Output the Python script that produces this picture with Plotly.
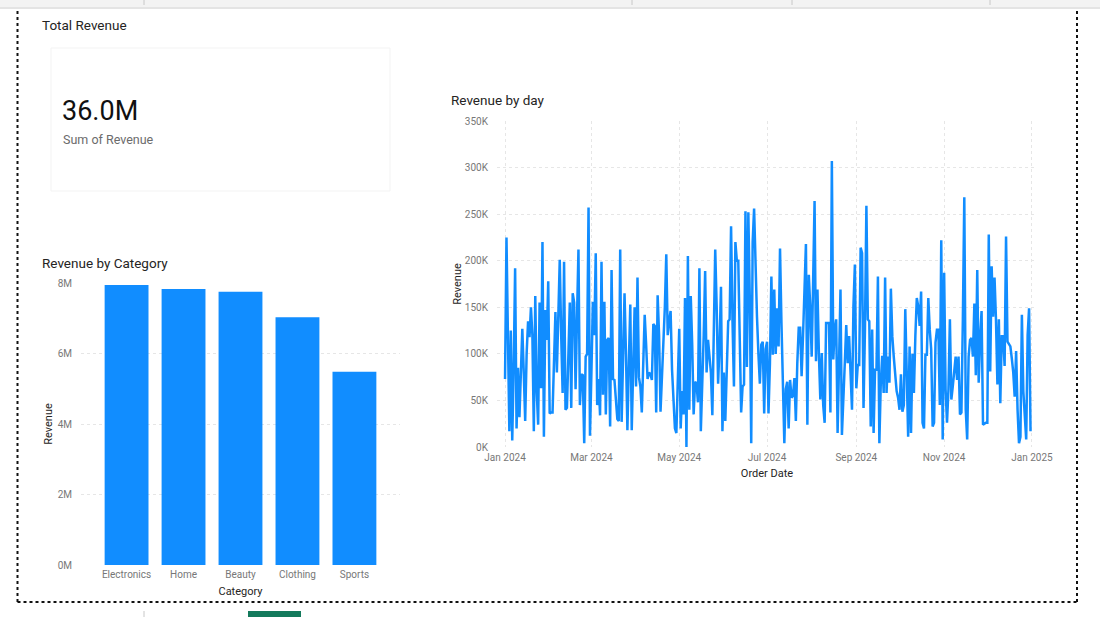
import pandas as pd
import plotly.graph_objects as go

# ---------------- data ----------------
categories = ["Electronics", "Home", "Beauty", "Clothing", "Sports"]
category_revenue = [7.94e6, 7.83e6, 7.75e6, 7.03e6, 5.48e6]
bar_tick_vals = [0, 2e6, 4e6, 6e6, 8e6]
bar_tick_text = ["0M", "2M", "4M", "6M", "8M"]

line_tick_vals = [0, 50e3, 100e3, 150e3, 200e3, 250e3, 300e3, 350e3]
line_tick_text = ["0K", "50K", "100K", "150K", "200K", "250K", "300K", "350K"]

# daily revenue (thousands) per month of 2024
jan = [73, 225, 120, 17, 125, 7, 85, 192, 20, 85, 32, 80, 127, 80, 28, 100, 135, 118, 150, 120,
       17, 162, 60, 24, 155, 63, 220, 11, 147, 115, 178]
feb = [36, 37, 37, 90, 145, 80, 130, 201, 120, 58, 199, 40, 42, 100, 155, 42, 165, 155, 62, 140,
       212, 45, 78, 77, 4, 97, 100, 257, 12]
mar = [80, 156, 120, 208, 45, 73, 34, 199, 56, 156, 35, 115, 117, 22, 190, 73, 72, 45, 30, 28,
       212, 27, 120, 165, 100, 18, 90, 153, 18, 100, 150]
apr = [65, 182, 75, 65, 37, 90, 142, 110, 73, 80, 78, 72, 132, 130, 37, 163, 120, 38, 70, 102,
       150, 207, 120, 135, 146, 83, 50, 20, 15, 60]
may = [127, 20, 60, 35, 160, 0, 205, 40, 162, 110, 35, 70, 68, 48, 192, 17, 60, 120, 189, 80,
       115, 100, 80, 34, 120, 212, 150, 68, 110, 172, 17]
jun = [80, 28, 90, 135, 137, 237, 135, 65, 220, 200, 200, 120, 37, 65, 67, 253, 86, 252, 160, 4,
       220, 256, 190, 140, 100, 68, 110, 113, 36, 105]
jul = [113, 36, 90, 183, 99, 169, 100, 149, 108, 213, 133, 60, 4, 62, 70, 20, 72, 53, 55, 74,
       28, 90, 128, 128, 76, 120, 183, 218, 24, 185, 150]
aug = [97, 178, 264, 92, 169, 100, 51, 101, 45, 26, 133, 133, 133, 37, 307, 94, 126, 137, 15, 90,
       169, 13, 62, 90, 131, 90, 119, 80, 40, 151, 196]
sep = [63, 88, 88, 214, 208, 42, 126, 259, 137, 135, 22, 126, 15, 83, 83, 183, 4, 69, 98, 58,
       182, 58, 97, 69, 170, 119, 97, 72, 60, 53]
oct_ = [40, 78, 38, 45, 148, 80, 11, 108, 15, 100, 58, 119, 160, 151, 130, 167, 26, 20, 99, 99,
        160, 126, 105, 22, 26, 112, 126, 126, 45, 222, 8]
nov = [187, 62, 26, 62, 137, 51, 65, 78, 97, 72, 97, 35, 37, 137, 268, 40, 8, 97, 115, 117,
       97, 154, 77, 190, 69, 117, 146, 24, 25, 26]
dec = [26, 228, 81, 194, 140, 182, 137, 67, 137, 47, 119, 119, 87, 226, 113, 111, 108, 95, 80, 54,
       103, 40, 4, 11, 142, 60, 26, 8, 120, 149, 17]
months = [jan, feb, mar, apr, may, jun, jul, aug, sep, oct_, nov, dec]

dates, revenue = [], []
for m, vals in enumerate(months, start=1):
    dates += list(pd.date_range(f"2024-{m:02d}-01", periods=len(vals), freq="D"))
    revenue += [v * 1000 for v in vals]

total_revenue = sum(category_revenue)

# ---------------- layout helpers ----------------
W, H = 1100, 617
def px(x):
    return x / W
def py(y):
    return 1 - y / H

BLUE = "#118DFF"
FONT = "Roboto"
TICK_C = "#777777"
TITLE_C = "#252423"
GRID_C = "#e6e6e6"
CLEAR = "rgba(0,0,0,0)"

fig = go.Figure()

fig.add_trace(go.Bar(
    x=categories, y=category_revenue, marker=dict(color=BLUE, line=dict(width=0)),
    width=0.77, xaxis="x", yaxis="y", showlegend=False,
))
fig.add_trace(go.Scatter(
    x=dates, y=revenue, mode="lines", line=dict(color=BLUE, width=2.5),
    xaxis="x2", yaxis="y2", showlegend=False,
))

axis_common = dict(showline=False, zeroline=False, automargin=False,
                   tickfont=dict(family=FONT, size=10, color=TICK_C))

fig.update_layout(
    width=W, height=H, margin=dict(l=0, r=0, t=0, b=0, pad=0, autoexpand=False),
    paper_bgcolor="white", plot_bgcolor="white",
    font=dict(family=FONT), showlegend=False,
    xaxis=dict(domain=[px(81), px(400)], anchor="y", range=[-0.8, 4.8], showgrid=False,
               ticks="outside", ticklen=0, tickcolor=CLEAR,
               title=dict(text="Category", font=dict(family=FONT, size=11, color=TITLE_C), standoff=8),
               **axis_common),
    yaxis=dict(domain=[py(565), py(283)], anchor="x", range=[0, 8e6],
               tickvals=bar_tick_vals, ticktext=bar_tick_text,
               showgrid=True, gridcolor=GRID_C, griddash="dot", gridwidth=1,
               ticks="outside", ticklen=6, tickcolor=CLEAR,
               title=dict(text="Revenue", font=dict(family=FONT, size=11, color=TITLE_C), standoff=2),
               **axis_common),
    xaxis2=dict(domain=[px(497), px(1037)], anchor="y2",
                range=["2023-12-26 10:00", "2025-01-04 12:00"],
                tick0="2024-01-01", dtick="M2", tickformat="%b %Y",
                showgrid=True, gridcolor=GRID_C, griddash="dot", gridwidth=1,
                ticks="outside", ticklen=1, tickcolor=CLEAR,
                title=dict(text="Order Date", font=dict(family=FONT, size=11, color=TITLE_C), standoff=7),
                **axis_common),
    yaxis2=dict(domain=[py(447), py(121)], anchor="x2", range=[0, 350e3],
                tickvals=line_tick_vals, ticktext=line_tick_text,
                showgrid=True, gridcolor=GRID_C, griddash="dot", gridwidth=1,
                ticks="outside", ticklen=6, tickcolor=CLEAR,
                title=dict(text="Revenue", font=dict(family=FONT, size=11, color=TITLE_C), standoff=1),
                **axis_common),
)

shapes = []
# top toolbar strip
shapes.append(dict(type="rect", xref="paper", yref="paper", x0=0, x1=1, y0=py(7), y1=1,
                   fillcolor="#f3f3f3", line=dict(width=0), layer="below"))
shapes.append(dict(type="rect", xref="paper", yref="paper", x0=0, x1=1, y0=py(9), y1=py(7),
                   fillcolor="#e4e4e4", line=dict(width=0), layer="below"))
for tx in [144, 632, 792, 990]:
    shapes.append(dict(type="line", xref="paper", yref="paper", x0=px(tx), x1=px(tx), y0=py(5), y1=1,
                       line=dict(color="#c8c8c8", width=1)))
# dotted canvas frame (left, right, bottom)
frame = dict(color="#111111", width=2, dash="dot")
shapes.append(dict(type="line", xref="paper", yref="paper", x0=px(17.5), x1=px(17.5), y0=py(602), y1=py(10), line=frame))
shapes.append(dict(type="line", xref="paper", yref="paper", x0=px(1077), x1=px(1077), y0=py(602), y1=py(10), line=frame))
shapes.append(dict(type="line", xref="paper", yref="paper", x0=px(17.5), x1=px(1077), y0=py(602), y1=py(602), line=frame))
# KPI card faint border
shapes.append(dict(type="rect", xref="paper", yref="paper", x0=px(51), x1=px(390), y0=py(191), y1=py(48),
                   line=dict(color="#f3f3f3", width=1), fillcolor=CLEAR, layer="below"))
# bottom page tab bits
shapes.append(dict(type="line", xref="paper", yref="paper", x0=px(144), x1=px(144), y0=0, y1=py(611),
                   line=dict(color="#c8c8c8", width=1)))
shapes.append(dict(type="rect", xref="paper", yref="paper", x0=px(248), x1=px(301), y0=0, y1=py(611),
                   fillcolor="#147a5c", line=dict(width=0)))
fig.update_layout(shapes=shapes)

def text(x, y, s, size, color, xanchor="left"):
    fig.add_annotation(x=px(x), y=py(y), xref="paper", yref="paper", text=s, showarrow=False,
                       xanchor=xanchor, yanchor="middle",
                       font=dict(family=FONT, size=size, color=color))

text(40, 25, "Total Revenue", 13.5, "#252423")
text(60, 111, f"{total_revenue/1e6:.1f}M", 27, "#111111")
text(61, 139, "Sum of Revenue", 12.5, "#6b6b6b")
text(40, 263, "Revenue by Category", 13.5, "#252423")
text(449, 100, "Revenue by day", 13.5, "#252423")

fig.write_html("out.html")
